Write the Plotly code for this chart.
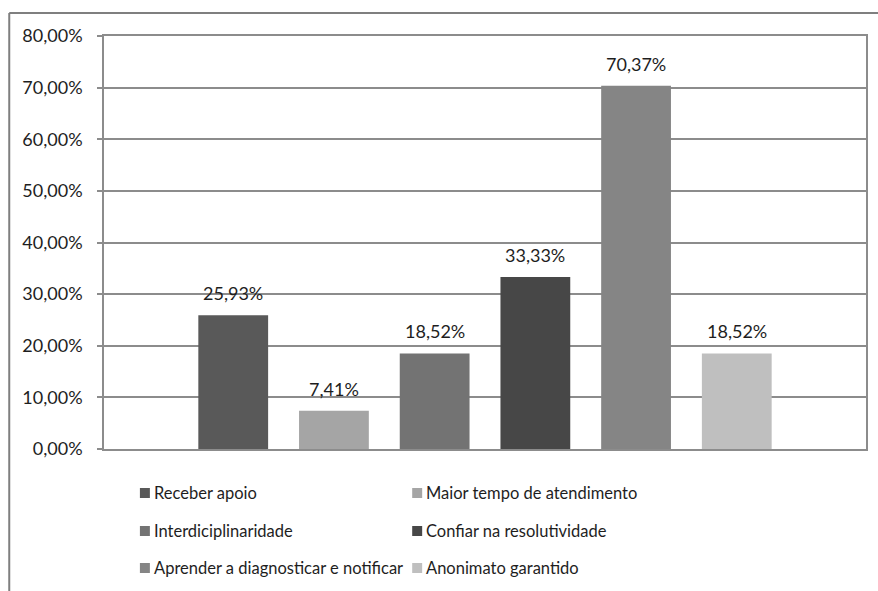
import plotly.graph_objects as go

# Survey answers (share of respondents, %)
categories = [
    "Receber apoio",
    "Maior tempo de atendimento",
    "Interdiciplinaridade",
    "Confiar na resolutividade",
    "Aprender a diagnosticar e notificar",
    "Anonimato garantido",
]
values = [25.93, 7.41, 18.52, 33.33, 70.37, 18.52]
colors = ["#595959", "#a5a5a5", "#737373", "#474747", "#858585", "#bfbfbf"]
y_ticks = [0, 10, 20, 30, 40, 50, 60, 70, 80]
y_tick_labels = [f"{t:.2f}".replace(".", ",") + "%" for t in y_ticks]

FONT = "Lato, 'Open Sans', sans-serif"
TXT = "#1e1e1e"
GRID = "#8c8c8c"
BARGAP = 0.207
GROUPGAP = 0.307

fig = go.Figure()
for name, v, c in zip(categories, values, colors):
    fig.add_trace(go.Bar(x=[""], y=[v], name=name, marker=dict(color=c, line=dict(width=0)),
                         showlegend=False))

# value labels above each bar of the group
n = len(values)
slot = (1 - BARGAP) / n
for i, v in enumerate(values):
    xc = -(1 - BARGAP) / 2 + (i + 0.5) * slot
    fig.add_annotation(x=xc, y=v, xref="x", yref="y", text=f"{v:.2f}".replace(".", ",") + "%",
                       showarrow=False, yanchor="bottom", yshift=9,
                       font=dict(family=FONT, size=18, color=TXT))

# legend: two columns, three rows below the plot
W, H = 764, 413
col_x = [140, 413]
row_y = [493, 531, 568]
for i, (name, c) in enumerate(zip(categories, colors)):
    px = col_x[i % 2]
    py = row_y[i // 2]
    x0 = (px - 104) / W
    x1 = (px + 10 - 104) / W
    y0 = (449 - (py + 5)) / H
    y1 = (449 - (py - 5)) / H
    fig.add_shape(type="rect", xref="paper", yref="paper", x0=x0, x1=x1, y0=y0, y1=y1,
                  fillcolor=c, line=dict(width=0))
    fig.add_annotation(xref="paper", yref="paper", x=(px + 12 - 104) / W, y=(449 - py) / H,
                       text=name, showarrow=False, xanchor="left", yanchor="middle",
                       font=dict(family=FONT, size=16.5, color=TXT))

# outer chart frame (left and top edges)
fig.add_shape(type="line", xref="paper", yref="paper",
              x0=(9 - 104) / W, x1=(9 - 104) / W, y0=(449 - 595) / H, y1=1 + (36 - 13) / H,
              line=dict(color="#7f7f7f", width=2))
fig.add_shape(type="line", xref="paper", yref="paper",
              x0=(9 - 104) / W, x1=(882 - 104) / W, y0=1 + (36 - 13) / H, y1=1 + (36 - 13) / H,
              line=dict(color="#7f7f7f", width=2))

fig.update_layout(
    width=878, height=591,
    margin=dict(l=104, r=10, t=36, b=142),
    paper_bgcolor="white", plot_bgcolor="white",
    barmode="group", bargap=BARGAP, bargroupgap=GROUPGAP,
    font=dict(family=FONT, color=TXT),
    xaxis=dict(showticklabels=False, ticks="", showgrid=False, zeroline=False,
               showline=True, mirror=True, linecolor=GRID, linewidth=1.5,
               range=[-0.5, 0.5]),
    yaxis=dict(range=[0, 80], tickvals=y_ticks, ticktext=y_tick_labels,
               showgrid=True, gridcolor=GRID, gridwidth=1.5, zeroline=False,
               showline=True, mirror=True, linecolor=GRID, linewidth=1.5,
               ticks="outside", ticklen=5, tickcolor=GRID, tickwidth=1.5,
               ticklabelstandoff=11,
               tickfont=dict(family=FONT, size=18, color=TXT)),
)

fig.write_html("out.html")
